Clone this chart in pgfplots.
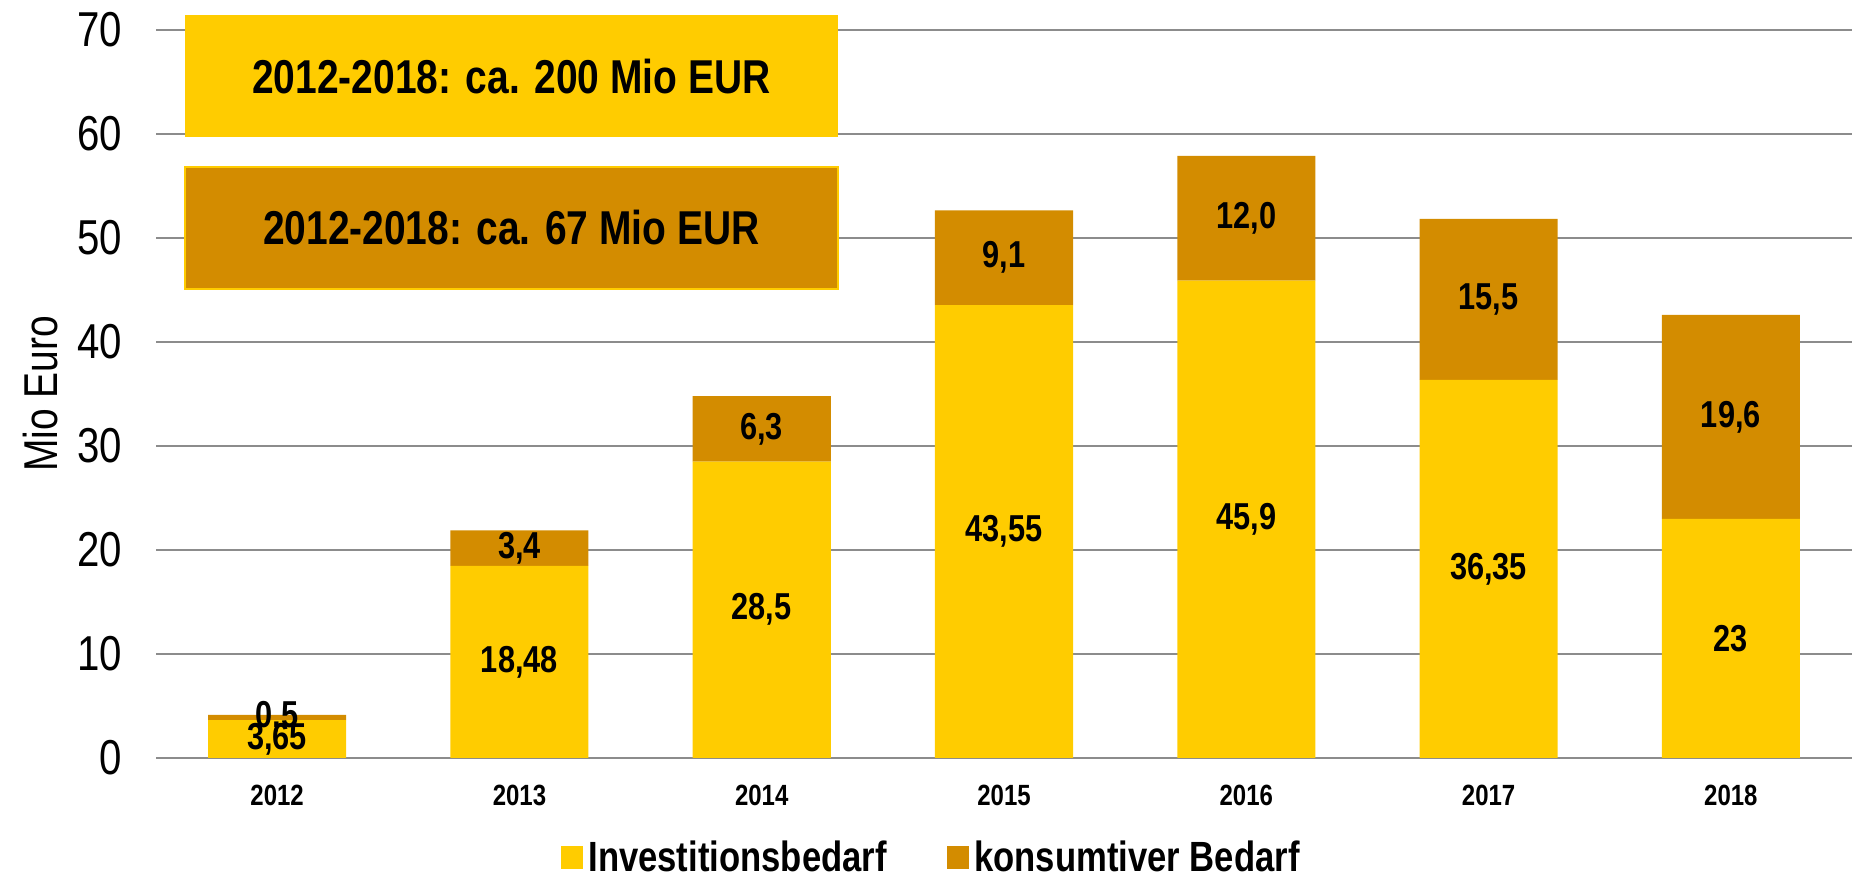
\documentclass[border=0pt]{standalone}
\usepackage{fontspec}
\IfFontExistsTF{Liberation Sans Narrow}{\setmainfont{Liberation Sans Narrow}}{\setmainfont{Liberation Sans}[FakeStretch=0.82]}
\usepackage{pgfplots}
\pgfplotsset{compat=1.18}
\usepackage{pgfplotstable}
\definecolor{gelb}{HTML}{FFCC00}
\definecolor{braun}{HTML}{D38C00}
\definecolor{gridgray}{HTML}{8C8C8C}

\pgfplotstableread{
x inv kon
0 3.65 0.5
1 18.48 3.4
2 28.5 6.3
3 43.55 9.1
4 45.9 12.0
5 36.35 15.5
6 23 19.6
}\datatable

\begin{document}
\begin{tikzpicture}
\begin{axis}[
  name=ax,
  scale only axis, width=678.4pt, height=291.2pt,
  ybar stacked, bar width=0.57,
  xmin=-0.5, xmax=6.5, ymin=0, ymax=70,
  xtick={0,1,2,3,4,5,6},
  xticklabels={2012,2013,2014,2015,2016,2017,2018},
  ytick={0,10,20,30,40,50,60,70},
  ymajorgrids, major grid style={gridgray, line width=0.8pt},
  axis line style={draw=none}, tick style={draw=none},
  clip=false,
  /pgf/number format/assume math mode=true,
  yticklabel style={font=\fontsize{19.6}{20}\selectfont, xshift=-10pt},
  xticklabel style={font=\bfseries\fontsize{11.7}{12}\selectfont, yshift=-7.4pt},
  ylabel={Mio Euro},
  every axis y label/.style={at={(axis description cs:-0.0678,0.5)}, rotate=90, anchor=center, font=\fontsize{19}{20}\selectfont},
  legend style={at={(axis description cs:0.458,-0.137)}, anchor=center, draw=none, fill=none,
    legend columns=2, font=\bfseries\fontsize{16.9}{18}\selectfont,
    /tikz/every even column/.append style={column sep=22pt}},
  legend image code/.code={\fill[#1] (0pt,-4.5pt) rectangle (9pt,4.5pt);},
]
\addplot[fill=gelb, draw=none,
  point meta=explicit,
  nodes near coords={\pgfmathprintnumber[use comma]{\pgfplotspointmeta}},
  every node near coord/.style={anchor=center, black, font=\bfseries\fontsize{15}{16}\selectfont}
] table[x=x, y=inv, meta=inv] {\datatable};
\addplot[fill=braun, draw=none,
  point meta=explicit,
  nodes near coords={\pgfmathprintnumber[fixed, fixed zerofill, precision=1, use comma]{\pgfplotspointmeta}},
  every node near coord/.style={anchor=center, black, font=\bfseries\fontsize{15}{16}\selectfont}
] table[x=x, y=kon, meta=kon] {\datatable};
\legend{Investitionsbedarf, konsumtiver Bedarf}
\path[fill=gelb] (axis cs:-0.38,59.71) rectangle (axis cs:2.313,71.44)
  node[pos=0.5, text=black, font=\bfseries\fontsize{19}{20}\selectfont] {2012-2018: ca. 200 Mio EUR};
\path[fill=braun, draw=gelb, line width=0.8pt] (axis cs:-0.38,45.1) rectangle (axis cs:2.313,56.83)
  node[pos=0.5, text=black, font=\bfseries\fontsize{19}{20}\selectfont] {2012-2018: ca. 67 Mio EUR};
\end{axis}
\pgfresetboundingbox
\path[use as bounding box] ([shift={(-62.4pt,-48.4pt)}]ax.south west) rectangle ([shift={(0pt,12pt)}]ax.north east);
\end{tikzpicture}
\end{document}
